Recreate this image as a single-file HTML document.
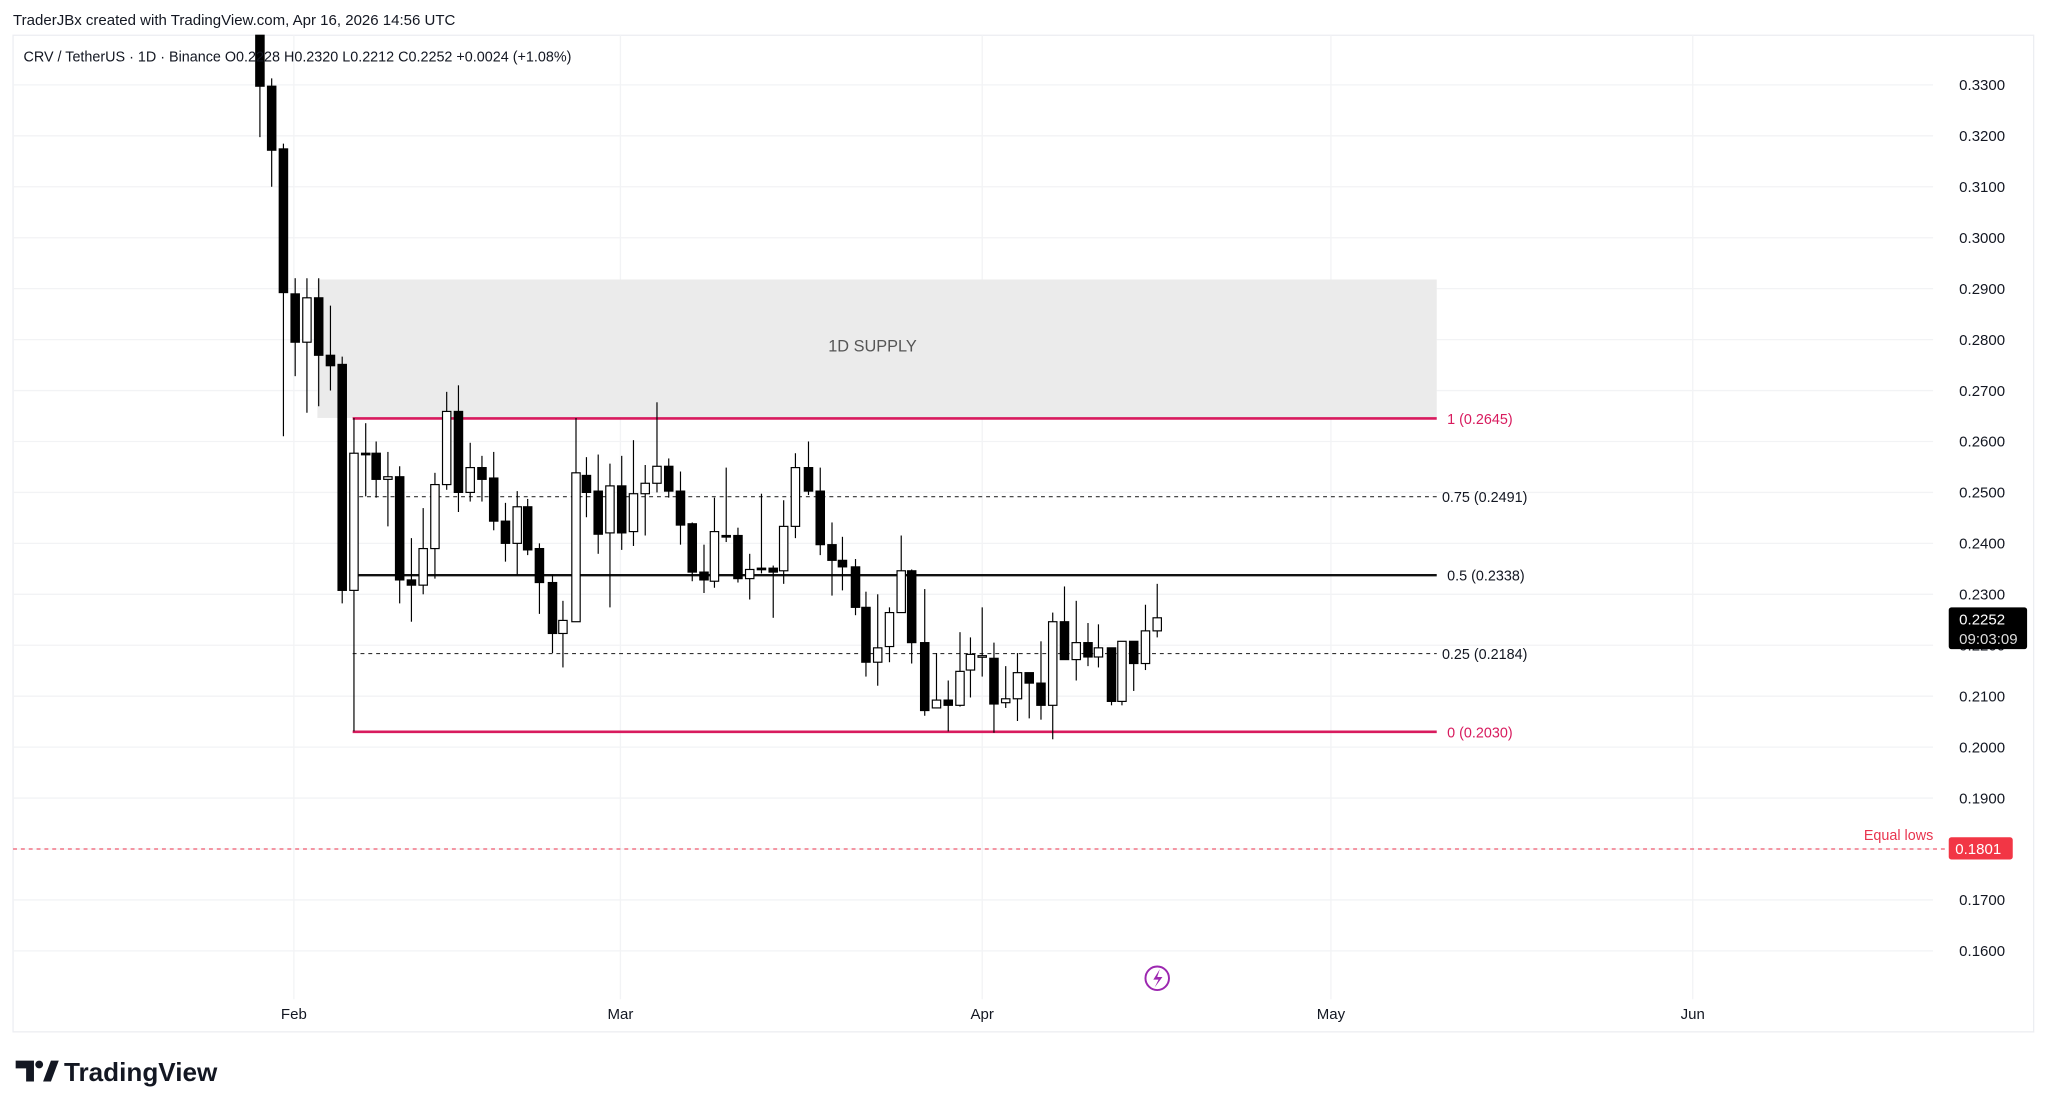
<!DOCTYPE html>
<html><head><meta charset="utf-8"><style>
html,body{margin:0;padding:0;background:#fff;width:2048px;height:1111px;overflow:hidden}
svg{display:block}
text{font-family:"Liberation Sans",sans-serif}
</style></head><body>
<svg id="s" width="2048" height="1111" viewBox="0 0 1568 850.6" preserveAspectRatio="none" xmlns="http://www.w3.org/2000/svg">
<rect x="0" y="0" width="1568" height="851" fill="#fff"/>
<text x="10" y="19" font-size="11.5" fill="#131722">TraderJBx created with TradingView.com, Apr 16, 2026 14:56 UTC</text>
<rect x="10" y="27" width="1547" height="763" fill="none" stroke="#eceef2" stroke-width="1"/>
<g id="grid" stroke="#f2f3f5" stroke-width="1"></g>
<rect x="243" y="214" width="857" height="106" fill="#ebebeb"/>
<text x="668" y="269" font-size="12.5" fill="#555" text-anchor="middle">1D SUPPLY</text>
<line x1="270" y1="320.4" x2="1100" y2="320.4" stroke="#d81b5e" stroke-width="2"/>
<line x1="275" y1="380.3" x2="1100" y2="380.3" stroke="#333" stroke-width="0.9" stroke-dasharray="3,3"/>
<line x1="270" y1="440.4" x2="1100" y2="440.4" stroke="#111" stroke-width="1.8"/>
<line x1="270" y1="500.4" x2="1100" y2="500.4" stroke="#333" stroke-width="0.9" stroke-dasharray="3,3"/>
<line x1="270" y1="560.3" x2="1100" y2="560.3" stroke="#d81b5e" stroke-width="2"/>
<line x1="10" y1="650" x2="1490" y2="650" stroke="#f05a6e" stroke-width="0.9" stroke-dasharray="3,3"/>
<g id="candles"></g>
<g font-size="11" fill="#131722">
<text x="1108" y="324.5" fill="#d81b5e">1 (0.2645)</text>
<text x="1104" y="384.5">0.75 (0.2491)</text>
<text x="1108" y="444.5">0.5 (0.2338)</text>
<text x="1104" y="504.5">0.25 (0.2184)</text>
<text x="1108" y="564.5" fill="#d81b5e">0 (0.2030)</text>
<text x="1427" y="643" fill="#e8344e">Equal lows</text>
</g>
<g id="ticks" font-size="11.5" fill="#131722"></g>
<rect x="1492" y="465" width="60" height="32" rx="2" fill="#000"/>
<text x="1500" y="478" font-size="11.5" fill="#fff">0.2252</text>
<text x="1500" y="493" font-size="11.5" fill="#ddd">09:03:09</text>
<rect x="1492" y="641" width="49" height="17" rx="2" fill="#f23645"/>
<text x="1497" y="654" font-size="11.5" fill="#fff">0.1801</text>
<text x="18" y="47" font-size="11" fill="#131722">CRV / TetherUS · 1D · Binance  O0.2228  H0.2320  L0.2212  C0.2252  +0.0024 (+1.08%)</text>
<g font-size="11.5" fill="#131722" text-anchor="middle">
<text x="225" y="780">Feb</text><text x="475" y="780">Mar</text><text x="752" y="780">Apr</text><text x="1019" y="780">May</text><text x="1296" y="780">Jun</text>
</g>
<circle cx="886" cy="749" r="9" fill="none" stroke="#9c27b0" stroke-width="1.5"/>
<path d="M888 742 L883 750 L887 750 L884 756 L890 748 L886 748 Z" fill="#9c27b0"/>
<g transform="translate(12,812)">
<path d="M0 0 H14 V16 H8 V6 H0 Z" fill="#131722"/>
<circle cx="18" cy="3" r="3" fill="#131722"/>
<path d="M21 16 L27 0 H33 L27 16 Z" fill="#131722"/>
<text x="37" y="15.5" font-size="20" font-weight="bold" fill="#131722">TradingView</text>
</g>
</svg>
<script>
var NS="http://www.w3.org/2000/svg";
function el(p,t,a){var e=document.createElementNS(NS,t);for(var k in a)e.setAttribute(k,a[k]);p.appendChild(e);return e;}
var g=document.getElementById('grid'),tk=document.getElementById('ticks');
for(var i=0;i<=17;i++){var p=0.33-i*0.01,y=65+i*39;el(g,'line',{x1:10,y1:y,x2:1480,y2:y});
var t=el(tk,'text',{x:1500,y:y+4});t.textContent=p.toFixed(4);}
[225,475,752,1019,1296].forEach(function(x){el(g,'line',{x1:x,y1:27,x2:x,y2:765});});
var C=[
[199,27,66,27,105],[208,66,115,60,143],[217,114,224,110,334],[226,225,262,213,288],[235,262,228,213,316],[244,228,272,213,311],[253,272,280,234,299],
[262,279,452,273,462],[271,452,347,320,560],[280,347,348,324,380],[288,347,367,338,381],[297,367,365,346,403],[306,365,444,357,462],[315,444,448,412,476],
[324,448,420,389,455],[333,420,371,362,443],[342,371,315,300,375],[351,315,377,295,392],[360,377,358,339,384],[369,358,367,349,384],[378,366,399,346,406],
[387,399,416,385,430],[396,416,388,376,440],[404,388,421,382,425],[413,420,446,416,470],[423,446,485,440,500],[431,485,475,460,511],
[441,476,362,320,476],[449,364,377,350,396],[458,376,409,348,424],[467,408,372,355,465],[476,372,408,349,421],[485,407,378,337,418],[494,378,370,356,410],
[503,370,357,308,377],[512,357,376,351,381],[521,376,402,361,417],[530,401,438,400,445],[539,438,444,417,454],[547,445,407,381,450],[556,410,411,358,415],
[565,410,443,404,446],[574,443,436,424,459],[583,435,436,378,439],[592,435,438,433,473],[600,437,403,383,447],[609,403,358,347,412],[619,358,376,338,379],
[628,376,417,358,425],[637,417,429,400,456],[645,429,434,411,452],[655,434,465,428,471],[663,465,507,453,518],[672,507,496,455,525],[681,495,469,465,507],
[690,469,437,410,469],[698,437,492,436,508],[708,492,544,451,548],[717,542,536,500,542],[726,536,540,521,560],[735,540,514,484,541],[743,513,501,488,534],
[752,502,502,465,518],[761,504,539,492,561],[770,538,535,510,542],[779,535,515,500,552],[788,515,523,515,550],[797,523,540,491,551],[806,540,476,469,566],
[815,476,505,449,505],[824,505,492,460,521],[833,492,503,477,510],[841,503,496,478,511],[851,496,537,496,540],[859,537,491,491,540],[868,491,508,491,529],
[877,508,483,463,513],[886,483,473,447,488]];
var cg=document.getElementById('candles');
C.forEach(function(c){var x=c[0],o=c[1],cl=c[2],h=c[3],l=c[4];
el(cg,'line',{x1:x,y1:h,x2:x,y2:l,stroke:'#000','stroke-width':0.9});
var top=Math.min(o,cl),ht=Math.max(Math.abs(o-cl),1.2),bear=cl>o;
el(cg,'rect',{x:x-3.2,y:top,width:6.4,height:ht,fill:bear?'#000':'#fff',stroke:'#000','stroke-width':0.9});});
</script>
</body></html>
